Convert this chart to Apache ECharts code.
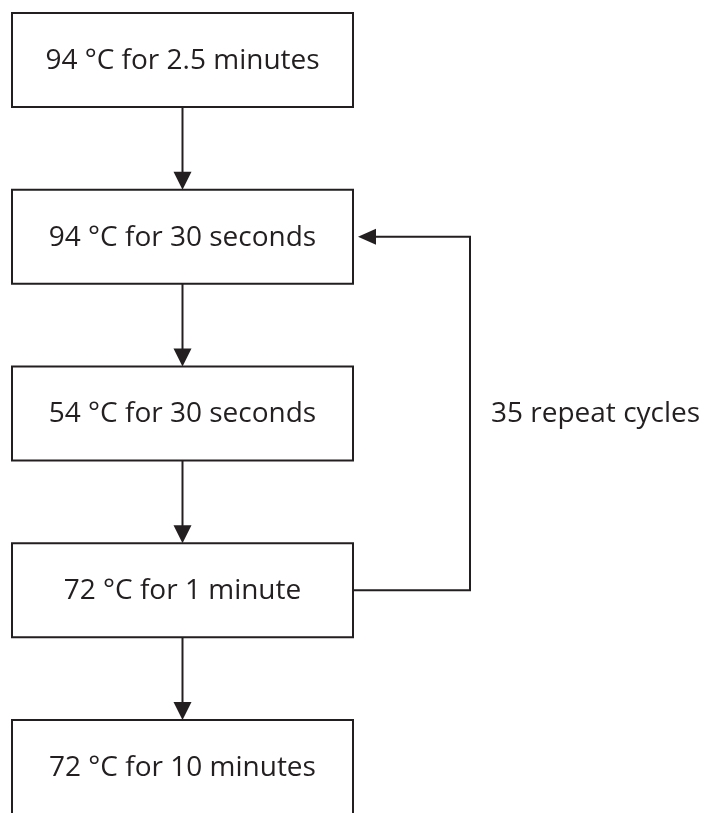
<!DOCTYPE html>
<html>
<head>
<meta charset="utf-8">
<script src="https://cdn.jsdelivr.net/npm/echarts@6/dist/echarts.min.js"></script>
<style>html,body{margin:0;padding:0;background:#fff}#c{width:708px;height:813px}</style>
</head>
<body>
<div id="c"></div>
<script>
// ---- data ----
const stepLabels = [
  '94 °C for 2.5 minutes',
  '94 °C for 30 seconds',
  '54 °C for 30 seconds',
  '72 °C for 1 minute',
  '72 °C for 10 minutes'
];
const loopFrom = 3;
const loopTo = 1;
const loopLabel = '35 repeat cycles';

// ---- style ----
const INK = '#231f20';
const FONT = '"Open Sans", "Noto Sans", sans-serif';
const FS = 28;
const BOX_X0 = 12, BOX_X1 = 353;   // x in axis units (pixel-scaled axis)
const BOX_HALF = 47 / 177;          // half height in step units
const LOOP_X = 470;
const LABEL_X = 491;
const HEAD = 9, HEAD_LEN = 18;

const chart = echarts.init(document.getElementById('c'), null, {renderer: 'canvas'});

const stepData = stepLabels.map((s, i) => [i, s]);

function renderStep(params, api) {
  const i = api.value(0);
  const tl = api.coord([BOX_X0, i - BOX_HALF]);
  const br = api.coord([BOX_X1, i + BOX_HALF]);
  const cx = (tl[0] + br[0]) / 2;
  const cy = (tl[1] + br[1]) / 2;
  const children = [
    {type: 'rect', shape: {x: tl[0], y: tl[1], width: br[0] - tl[0], height: br[1] - tl[1]},
     style: {fill: '#fff', stroke: INK, lineWidth: 2}},
    {type: 'text', x: cx, y: cy + 1,
     style: {text: stepLabels[i], fill: INK, font: FS + 'px ' + FONT, align: 'center', verticalAlign: 'middle'}}
  ];
  if (i < stepLabels.length - 1) {
    const nextTop = api.coord([BOX_X0, i + 1 - BOX_HALF])[1];
    children.push({type: 'line', shape: {x1: cx, y1: br[1], x2: cx, y2: nextTop - HEAD_LEN + 1},
      style: {stroke: INK, lineWidth: 2}});
    children.push({type: 'polygon', shape: {points: [[cx - HEAD, nextTop - HEAD_LEN], [cx + HEAD, nextTop - HEAD_LEN], [cx, nextTop]]},
      style: {fill: INK}});
  }
  return {type: 'group', children};
}

function renderLoop(params, api) {
  const from = api.coord([BOX_X1, loopFrom]);
  const to = api.coord([BOX_X1, loopTo]);
  const lx = api.coord([LOOP_X, 0])[0];
  const tipX = to[0] + 5;
  const mid = api.coord([LABEL_X, (loopFrom + loopTo) / 2]);
  return {type: 'group', children: [
    {type: 'polyline', shape: {points: [[from[0], from[1]], [lx, from[1]], [lx, to[1]], [tipX + HEAD_LEN - 1, to[1]]]},
     style: {stroke: INK, lineWidth: 2, fill: null}},
    {type: 'polygon', shape: {points: [[tipX, to[1]], [tipX + HEAD_LEN, to[1] - HEAD + 1], [tipX + HEAD_LEN, to[1] + HEAD - 1]]},
     style: {fill: INK}},
    {type: 'text', x: mid[0], y: mid[1] + 1,
     style: {text: loopLabel, fill: INK, font: FS + 'px ' + FONT, align: 'left', verticalAlign: 'middle'}}
  ]};
}

chart.setOption({
  animation: false,
  backgroundColor: '#fff',
  grid: {left: 0, right: 0, top: 60, bottom: 46},
  xAxis: {type: 'value', min: 0, max: 708, show: false},
  yAxis: {type: 'value', min: 0, max: stepLabels.length - 1, inverse: true, show: false},
  series: [
    {type: 'custom', clip: false, data: stepData, renderItem: renderStep, encode: {x: -1, y: 0}},
    {type: 'custom', clip: false, data: [[loopFrom, loopTo]], renderItem: renderLoop}
  ]
});
</script>
</body>
</html>
